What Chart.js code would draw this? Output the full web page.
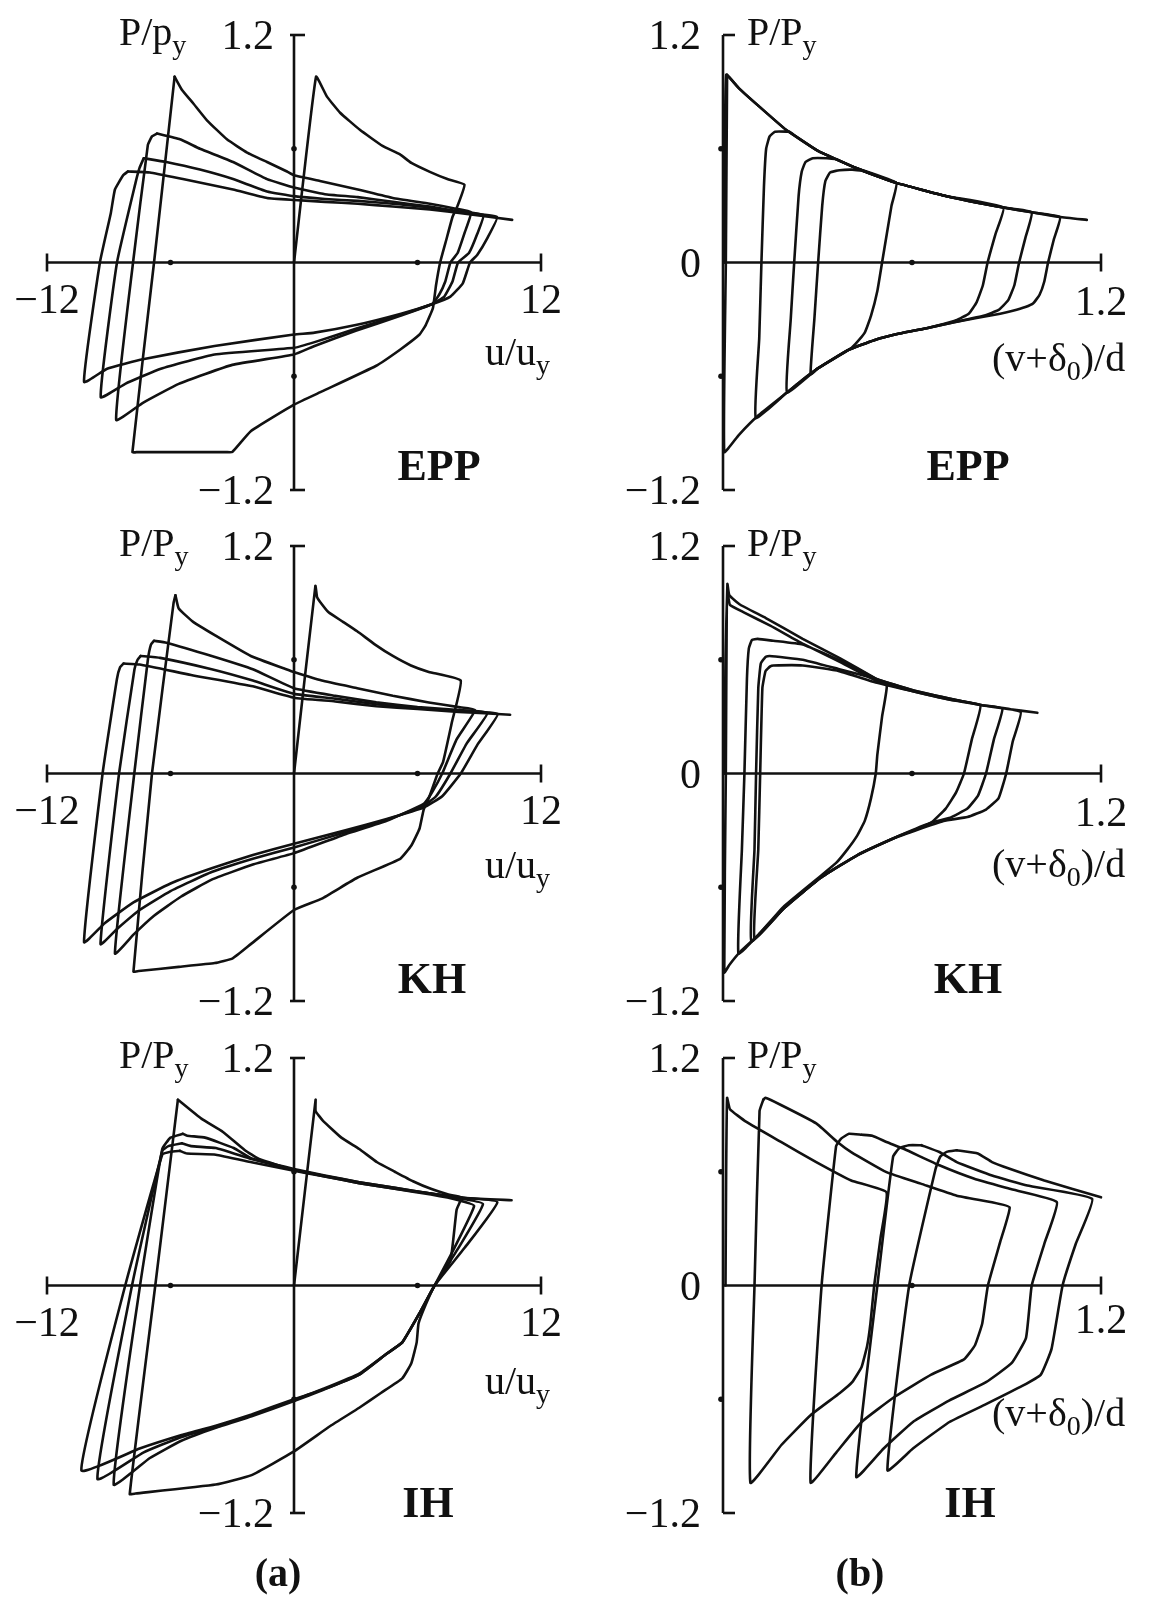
<!DOCTYPE html>
<html>
<head>
<meta charset="utf-8">
<script src="https://cdn.jsdelivr.net/npm/chart.js@4.4.1/dist/chart.umd.min.js"></script>
<style>
  html, body { margin: 0; padding: 0; background: #fff; }
  #page { position: relative; width: 1155px; height: 1598px; overflow: hidden; background: #fff; }
  canvas { position: absolute; }
</style>
</head>
<body>
<div id="page">
  <canvas id="cEPPa" width="580" height="511" style="left:0;top:0"></canvas>
  <canvas id="cEPPb" width="565" height="511" style="left:590px;top:0"></canvas>
  <canvas id="cKHa"  width="580" height="511" style="left:0;top:511px"></canvas>
  <canvas id="cKHb"  width="565" height="511" style="left:590px;top:511px"></canvas>
  <canvas id="cIHa"  width="580" height="575" style="left:0;top:1023px"></canvas>
  <canvas id="cIHb"  width="565" height="575" style="left:590px;top:1023px"></canvas>
</div>
<script>
// Brace hysteresis: (a) axial force vs axial displacement, (b) force vs mid-span deflection.
// Each path is one load cycle: buckling branch, unloading, tension branch, reloading.

// ---- axis ticks ----
const uTicks = [-12, 12];          // u/u_y end labels
const uMarks = [-6, 6];            // small dots on the u axis
const pTicksA = [1.2, -1.2];
const pTicksB = [1.2, 0, -1.2];
const pMarks = [0.6, -0.6];
const vTicks = [1.2];
const vMarks = [0.6];

// ---- (a) EPP : [u/u_y, P/P_y] ----
const eppA1 = [[0,0],[1.07,0.98],[1.6,0.875],[2.24,0.79],[3.2,0.70],[4.3,0.615],[5.15,0.57],[5.7,0.525],[6.6,0.478],[7.45,0.44],[8.28,0.41],
  [7.95,0.30],[7.7,0.24],[7.4,0.12],[7.1,0],[6.9,-0.12],[6.75,-0.24],[6.4,-0.33],[6.1,-0.38],[5.15,-0.46],[3.97,-0.546],[1.36,-0.68],[0,-0.75],
  [-2.1,-0.89],[-3.0,-1.0],[-3.3,-1.0],[-7.6,-1.0],[-7.85,-1.0],[-6.8,0],[-5.8,0.98]];
const eppA2 = [[-5.8,0.98],[-5.44,0.91],[-4.9,0.84],[-4.23,0.75],[-3.26,0.65],[-2.28,0.58],[-1.31,0.53],[-0.34,0.48],[0,0.46],[1.26,0.43],[3.1,0.385],
  [4.8,0.34],[6.6,0.31],[7.8,0.285],[8.6,0.265],[8.3,0.16],[7.95,0.05],[7.6,0],[7.35,-0.1],[7.05,-0.17],[6.7,-0.22],[5.2,-0.28],[3.0,-0.36],
  [1.0,-0.44],[0,-0.485],[-3.0,-0.54],[-5.6,-0.64],[-7.34,-0.74],[-8.64,-0.83],[-7.82,0],[-7.1,0.62],[-6.9,0.665],[-6.66,0.68]];
const eppA3 = [[-6.66,0.68],[-5.54,0.65],[-4.57,0.6],[-2.96,0.53],[-1.31,0.44],[0,0.395],[1.5,0.36],[3.1,0.345],[4.8,0.32],[6.6,0.295],[8.0,0.27],
  [9.2,0.25],[8.9,0.15],[8.5,0.05],[7.97,0],[7.7,-0.1],[7.3,-0.18],[6.7,-0.22],[5.2,-0.275],[3.0,-0.35],[1.0,-0.42],[0,-0.45],[-3.86,-0.485],
  [-6.47,-0.56],[-8.2,-0.64],[-9.39,-0.71],[-8.6,0],[-7.7,0.42],[-7.5,0.5],[-7.3,0.55]];
const eppA4 = [[-7.3,0.55],[-6.2,0.53],[-4.57,0.49],[-2.96,0.44],[-1.31,0.375],[0,0.35],[1.5,0.335],[3.1,0.325],[4.8,0.31],[6.6,0.29],[8.0,0.265],
  [9.86,0.24],[9.4,0.13],[8.9,0.04],[8.55,0],[8.2,-0.11],[7.6,-0.18],[6.7,-0.22],[5.2,-0.27],[3.0,-0.33],[1.0,-0.37],[0,-0.38],[-3.86,-0.44],
  [-7.34,-0.51],[-9.08,-0.56],[-10.2,-0.63],[-9.43,0],[-8.9,0.26],[-8.7,0.385],[-8.3,0.46],[-8.07,0.48]];
const eppA5 = [[-8.07,0.48],[-7.0,0.475],[-5.4,0.44],[-2.96,0.385],[-1.31,0.34],[0,0.33],[1.5,0.32],[3.1,0.31],[4.8,0.295],[6.6,0.28],[8.5,0.255],[10.6,0.225]];

// ---- (b) EPP : [(v+d0)/d, P/P_y] ----
const eppB1 = [[0.004,0],[0.01,0.99],[0.05,0.92],[0.11,0.83],[0.2,0.70],[0.3,0.59],[0.42,0.50],[0.55,0.42],[0.535,0.3],[0.52,0.15],[0.505,0],
  [0.49,-0.15],[0.47,-0.28],[0.45,-0.37],[0.42,-0.43],[0.4,-0.46],[0.3,-0.56],[0.244,-0.63],[0.2,-0.69],[0.11,-0.81],[0.05,-0.91],[0.004,-1.0],
  [0.009,0],[0.013,0.99]];
const eppB2 = [[0.013,0.99],[0.05,0.92],[0.11,0.83],[0.2,0.70],[0.3,0.59],[0.42,0.50],[0.55,0.42],[0.71,0.35],[0.89,0.29],[0.865,0.15],[0.84,0],
  [0.825,-0.12],[0.805,-0.21],[0.78,-0.27],[0.74,-0.305],[0.7,-0.325],[0.65,-0.345],[0.56,-0.375],[0.48,-0.41],[0.4,-0.46],[0.3,-0.56],
  [0.244,-0.63],[0.2,-0.69],[0.104,-0.82],[0.115,-0.4],[0.122,0],[0.13,0.4],[0.137,0.6],[0.148,0.665],[0.165,0.69],[0.21,0.69]];
const eppB3 = [[0.21,0.69],[0.3,0.59],[0.42,0.50],[0.55,0.42],[0.71,0.35],[0.89,0.29],[0.98,0.265],[0.96,0.13],[0.94,0],[0.925,-0.12],[0.905,-0.2],
  [0.875,-0.25],[0.83,-0.28],[0.73,-0.316],[0.65,-0.345],[0.56,-0.375],[0.48,-0.41],[0.4,-0.46],[0.3,-0.56],[0.203,-0.685],[0.215,-0.3],
  [0.226,0],[0.24,0.35],[0.25,0.48],[0.262,0.53],[0.285,0.55],[0.33,0.55],[0.36,0.545]];
const eppB4 = [[0.36,0.545],[0.42,0.50],[0.55,0.42],[0.71,0.35],[0.89,0.29],[0.98,0.265],[1.07,0.24],[1.05,0.12],[1.032,0],[1.02,-0.1],
  [1.005,-0.17],[0.985,-0.215],[0.96,-0.235],[0.92,-0.255],[0.88,-0.27],[0.73,-0.316],[0.65,-0.345],[0.56,-0.375],[0.48,-0.41],[0.4,-0.46],
  [0.3,-0.56],[0.278,-0.59],[0.29,-0.3],[0.302,0],[0.315,0.3],[0.325,0.43],[0.34,0.475],[0.37,0.487],[0.41,0.49],[0.44,0.485]];
const eppB5 = [[0.44,0.485],[0.55,0.42],[0.71,0.35],[0.89,0.29],[0.98,0.265],[1.07,0.24],[1.155,0.225]];

// ---- (a) KH ----
const khA1 = [[0,0],[1.04,0.99],[1.12,0.93],[1.27,0.905],[1.68,0.85],[2.38,0.80],[3.07,0.75],[3.94,0.68],[4.8,0.62],[5.68,0.57],[6.55,0.536],
  [8.1,0.49],[7.67,0.27],[7.24,0.06],[6.98,0],[6.55,-0.13],[6.3,-0.19],[6.1,-0.29],[5.7,-0.38],[5.16,-0.45],[3.07,-0.55],[1.35,-0.66],
  [0,-0.72],[-2.1,-0.9],[-2.98,-0.975],[-3.85,-1.0],[-5.6,-1.02],[-7.55,-1.042],[-7.8,-1.045],[-6.9,0],[-5.85,0.9],[-5.76,0.94]];
const khA2 = [[-5.76,0.94],[-5.6,0.87],[-4.9,0.8],[-3.85,0.73],[-2.1,0.62],[-0.38,0.55],[0,0.535],[1.35,0.49],[3.07,0.45],[4.8,0.41],
  [6.55,0.375],[8.0,0.35],[8.8,0.335],[7.9,0.18],[7.2,0],[6.7,-0.1],[6.3,-0.16],[4.5,-0.25],[2.5,-0.32],[0,-0.42],[-2,-0.48],[-4,-0.56],
  [-5.5,-0.65],[-6.8,-0.75],[-7.8,-0.85],[-8.7,-0.95],[-7.76,0],[-7.1,0.6],[-6.95,0.68],[-6.8,0.70]];
const khA3 = [[-6.8,0.70],[-6.2,0.69],[-4,0.62],[-2,0.55],[0,0.45],[2,0.41],[4,0.375],[6,0.35],[8,0.335],[9.4,0.32],[8.4,0.16],[7.6,0],
  [6.9,-0.12],[6.3,-0.17],[4.5,-0.245],[2.5,-0.31],[0,-0.39],[-2,-0.45],[-4,-0.52],[-6,-0.62],[-7.5,-0.72],[-8.6,-0.82],[-9.4,-0.9],
  [-8.5,0],[-7.75,0.55],[-7.6,0.6],[-7.45,0.62]];
const khA4 = [[-7.45,0.62],[-6.5,0.61],[-4,0.55],[-2,0.49],[0,0.42],[2,0.395],[4,0.365],[6,0.345],[8,0.33],[9.9,0.315],[8.9,0.15],[8.1,0],
  [7.2,-0.12],[6.3,-0.18],[4.5,-0.24],[2.5,-0.3],[0,-0.37],[-2,-0.43],[-4,-0.5],[-6,-0.58],[-7.8,-0.68],[-9.2,-0.79],[-10.2,-0.89],
  [-9.3,0],[-8.6,0.5],[-8.45,0.56],[-8.28,0.58]];
const khA5 = [[-8.28,0.58],[-7.5,0.575],[-5,0.52],[-2,0.46],[0,0.40],[2,0.38],[4,0.355],[6,0.34],[8,0.325],[10.5,0.31]];

// ---- (b) KH ----
const khB1 = [[0.004,0],[0.008,0.6],[0.014,1.0],[0.02,0.94],[0.055,0.89],[0.136,0.82],[0.253,0.71],[0.369,0.61],[0.485,0.50],[0.52,0.465],
  [0.505,0.3],[0.49,0.1],[0.485,0],[0.47,-0.13],[0.45,-0.25],[0.425,-0.33],[0.395,-0.40],[0.36,-0.47],[0.31,-0.54],[0.194,-0.70],
  [0.113,-0.85],[0.055,-0.94],[0.02,-1.01],[0.004,-1.05],[0.009,0],[0.012,0.88],[0.016,0.94]];
const khB2 = [[0.016,0.94],[0.022,0.89],[0.066,0.85],[0.15,0.78],[0.253,0.685],[0.369,0.59],[0.485,0.49],[0.6,0.435],[0.718,0.39],[0.817,0.36],
  [0.79,0.18],[0.765,0],[0.74,-0.1],[0.707,-0.185],[0.66,-0.26],[0.544,-0.34],[0.427,-0.43],[0.31,-0.55],[0.194,-0.71],[0.113,-0.85],
  [0.049,-0.95],[0.06,-0.4],[0.068,0],[0.076,0.5],[0.082,0.66],[0.092,0.705],[0.11,0.71],[0.16,0.70],[0.253,0.68],[0.346,0.615],[0.4,0.575]];
const khB3 = [[0.4,0.575],[0.485,0.50],[0.6,0.44],[0.718,0.395],[0.823,0.36],[0.887,0.343],[0.86,0.18],[0.835,0],[0.81,-0.115],[0.776,-0.185],
  [0.718,-0.235],[0.66,-0.26],[0.544,-0.34],[0.427,-0.43],[0.31,-0.55],[0.194,-0.71],[0.09,-0.885],[0.1,-0.4],[0.105,0],[0.112,0.45],
  [0.12,0.58],[0.135,0.615],[0.148,0.62],[0.253,0.60],[0.369,0.55],[0.45,0.515]];
const khB4 = [[0.45,0.515],[0.6,0.44],[0.718,0.395],[0.823,0.36],[0.945,0.325],[0.92,0.17],[0.899,0],[0.875,-0.13],[0.835,-0.19],[0.776,-0.23],
  [0.7,-0.25],[0.544,-0.34],[0.427,-0.43],[0.31,-0.55],[0.194,-0.71],[0.10,-0.87],[0.112,-0.4],[0.118,0],[0.125,0.45],[0.135,0.54],
  [0.15,0.565],[0.16,0.57],[0.253,0.57],[0.369,0.54],[0.485,0.48],[0.6,0.435],[0.718,0.39],[0.823,0.36],[0.893,0.343],[0.998,0.32]];

// ---- (a) IH ----
const ihA1 = [[0,0],[1.05,0.98],[1.05,0.92],[1.4,0.87],[2.3,0.78],[3.17,0.72],[4.04,0.65],[4.9,0.6],[5.78,0.55],[6.65,0.51],[7.5,0.48],
  [8.14,0.465],[7.9,0.4],[7.6,0.13],[6.83,0],[6.4,-0.1],[6.05,-0.2],[5.96,-0.3],[5.7,-0.41],[5.26,-0.49],[4.22,-0.567],[3.17,-0.645],
  [1.78,-0.74],[0,-0.875],[-2.06,-1.0],[-3.8,-1.05],[-7.7,-1.097],[-7.98,-1.1],[-6.74,0],[-5.64,0.98]];
const ihA2 = [[-5.64,0.98],[-4.5,0.88],[-3.45,0.81],[-2.4,0.715],[-1.7,0.667],[0,0.61],[1.5,0.575],[3.17,0.54],[4.9,0.51],[6.65,0.48],
  [8.0,0.45],[8.75,0.42],[7.8,0.2],[6.83,0],[6.13,-0.14],[5.26,-0.3],[4.5,-0.36],[3.17,-0.47],[1.43,-0.55],[0,-0.61],[-2.06,-0.69],
  [-3.8,-0.75],[-5.5,-0.82],[-7.0,-0.91],[-8.76,-1.05],[-7.48,0],[-6.4,0.72],[-6.0,0.78],[-5.4,0.80]];
const ihA3 = [[-5.4,0.80],[-5.19,0.79],[-4.32,0.78],[-2.93,0.725],[-2.06,0.67],[0,0.615],[1.5,0.58],[3.17,0.545],[4.9,0.515],[6.65,0.485],
  [8.0,0.46],[9.18,0.43],[8.0,0.2],[6.83,0],[6.13,-0.14],[5.26,-0.3],[4.5,-0.36],[3.17,-0.465],[1.43,-0.545],[0,-0.605],[-2.06,-0.685],
  [-3.8,-0.745],[-5.5,-0.80],[-7.3,-0.88],[-9.55,-1.02],[-7.87,0],[-6.4,0.71],[-6.1,0.735],[-5.45,0.75]];
const ihA4 = [[-5.45,0.75],[-5.0,0.735],[-3.8,0.725],[-2.06,0.667],[0,0.61],[1.5,0.578],[3.17,0.545],[4.9,0.515],[6.65,0.485],[8.0,0.465],
  [9.88,0.44],[8.3,0.2],[6.83,0],[6.13,-0.14],[5.26,-0.3],[4.5,-0.36],[3.17,-0.47],[1.43,-0.548],[0,-0.6],[-2.06,-0.68],[-3.8,-0.74],
  [-5.5,-0.79],[-7.5,-0.86],[-10.33,-0.975],[-8.2,0],[-6.4,0.69],[-6.0,0.705],[-5.54,0.71]];
const ihA5 = [[-5.54,0.71],[-5.2,0.696],[-3.8,0.69],[-2.06,0.65],[0,0.605],[1.5,0.575],[3.17,0.54],[4.9,0.51],[6.65,0.485],[8.5,0.46],[10.57,0.45]];

// ---- (b) IH ----
const ihB1 = [[0.008,0],[0.01,0.6],[0.013,0.99],[0.022,0.93],[0.073,0.864],[0.184,0.757],[0.296,0.651],[0.407,0.554],[0.519,0.492],[0.5,0.25],
  [0.48,0],[0.468,-0.2],[0.458,-0.315],[0.44,-0.43],[0.41,-0.51],[0.371,-0.567],[0.278,-0.684],[0.186,-0.84],[0.087,-1.04],[0.1,0],
  [0.116,0.92],[0.128,0.98]];
const ihB2 = [[0.128,0.98],[0.134,0.99],[0.184,0.952],[0.296,0.855],[0.363,0.757],[0.407,0.704],[0.519,0.598],[0.63,0.536],[0.742,0.474],
  [0.854,0.439],[0.91,0.412],[0.88,0.23],[0.841,0],[0.823,-0.2],[0.8,-0.315],[0.765,-0.39],[0.661,-0.47],[0.545,-0.587],[0.44,-0.72],
  [0.36,-0.88],[0.278,-1.04],[0.313,0],[0.359,0.735],[0.375,0.775],[0.40,0.80],[0.44,0.795]];
const ihB3 = [[0.44,0.795],[0.474,0.79],[0.519,0.757],[0.575,0.72],[0.687,0.634],[0.798,0.563],[0.91,0.51],[1.06,0.44],[1.02,0.22],[0.98,0],
  [0.962,-0.276],[0.916,-0.41],[0.835,-0.51],[0.719,-0.606],[0.603,-0.72],[0.51,-0.86],[0.423,-1.01],[0.49,0],[0.54,0.68],[0.56,0.725],
  [0.59,0.74],[0.63,0.74]];
const ihB4 = [[0.63,0.74],[0.687,0.704],[0.742,0.651],[0.854,0.58],[0.966,0.527],[1.172,0.457],[1.12,0.22],[1.078,0],[1.043,-0.334],
  [1.009,-0.47],[0.95,-0.53],[0.835,-0.626],[0.719,-0.72],[0.603,-0.86],[0.522,-0.975],[0.591,0],[0.675,0.616],[0.69,0.68],[0.71,0.705],
  [0.742,0.713]];
const ihB5 = [[0.742,0.713],[0.809,0.696],[0.854,0.651],[0.91,0.616],[1.02,0.554],[1.2,0.465]];

// ---- drawing ----
const INK = '#111';
const SERIF = '"Liberation Serif", "Times New Roman", serif';
const NUM_FONT = '42px ' + SERIF;
const LAB_FONT = '40px ' + SERIF;
const SUB_FONT = '28px ' + SERIF;
const NAME_FONT = 'bold 44px ' + SERIF;

const fmt = v => (v < 0 ? '\u2212' : '') + Math.abs(v);

// text made of runs, each run [text, font, dy]
function rich(ctx, runs, x, y, align) {
  let w = 0;
  for (const r of runs) { ctx.font = r[1]; w += ctx.measureText(r[0]).width; }
  let cx = align === 'right' ? x - w : align === 'center' ? x - w / 2 : x;
  ctx.textAlign = 'left';
  ctx.textBaseline = 'alphabetic';
  for (const r of runs) {
    ctx.font = r[1];
    ctx.fillText(r[0], cx, y + (r[2] || 0));
    cx += ctx.measureText(r[0]).width;
  }
}

function axesPlugin(cfg) {
  return {
    id: 'panelAxes',
    afterDatasetsDraw(chart) {
      const ctx = chart.ctx, sx = chart.scales.x, sy = chart.scales.y;
      const ox = sx.getPixelForValue(0), oy = sy.getPixelForValue(0);
      const top = sy.getPixelForValue(sy.max), bot = sy.getPixelForValue(sy.min);
      const right = sx.getPixelForValue(sx.max);
      const seg = (x1, y1, x2, y2) => { ctx.beginPath(); ctx.moveTo(x1, y1); ctx.lineTo(x2, y2); ctx.stroke(); };
      const dot = (x, y) => { ctx.beginPath(); ctx.arc(x, y, 2.8, 0, Math.PI * 2); ctx.fill(); };
      ctx.save();
      ctx.strokeStyle = INK;
      ctx.fillStyle = INK;
      ctx.lineWidth = 2.6;

      seg(ox, top, ox, bot);
      if (cfg.kind === 'a') {
        const left = sx.getPixelForValue(sx.min);
        seg(left, oy, right, oy);
        seg(left, oy - 9, left, oy + 9);
        seg(right, oy - 9, right, oy + 9);
        seg(ox - 4, top, ox + 11, top);
        seg(ox - 4, bot, ox + 11, bot);
        uMarks.forEach(v => dot(sx.getPixelForValue(v), oy));
        pMarks.forEach(v => dot(ox, sy.getPixelForValue(v)));
        uTicks.forEach(v => rich(ctx, [[fmt(v), NUM_FONT]], sx.getPixelForValue(v), oy + 50, 'center'));
        pTicksA.forEach(v => rich(ctx, [[fmt(v), NUM_FONT]], ox - 20, sy.getPixelForValue(v) + 14, 'right'));
        rich(ctx, [[cfg.pName, LAB_FONT], ['y', SUB_FONT, 9]], ox - 175, top + 10, 'left');
        rich(ctx, [['u/u', LAB_FONT], ['y', SUB_FONT, 9]], right - 56, oy + cfg.xLabDy, 'left');
      } else {
        seg(ox, oy, right, oy);
        seg(right, oy - 9, right, oy + 9);
        seg(ox, top, ox + 12, top);
        seg(ox, bot, ox + 12, bot);
        vMarks.forEach(v => dot(sx.getPixelForValue(v), oy));
        pMarks.forEach(v => dot(ox - 2, sy.getPixelForValue(v)));
        vTicks.forEach(v => rich(ctx, [[fmt(v), NUM_FONT]], sx.getPixelForValue(v), oy + cfg.endDy, 'center'));
        pTicksB.forEach(v => rich(ctx, [[fmt(v), NUM_FONT]], ox - 22, sy.getPixelForValue(v) + 14, 'right'));
        rich(ctx, [['P/P', LAB_FONT], ['y', SUB_FONT, 9]], ox + 24, top + 10, 'left');
        rich(ctx, [['(v+\u03b4', LAB_FONT], ['0', SUB_FONT, 9], [')/d', LAB_FONT]], right - 109, oy + cfg.xLabDy, 'left');
      }
      rich(ctx, [[cfg.name, NAME_FONT]], ox + cfg.nameDx, bot + cfg.nameDy, 'center');
      if (cfg.caption) rich(ctx, [[cfg.caption, 'bold 40px ' + SERIF]], ox + cfg.capDx, bot + 73, 'center');
      ctx.restore();
    }
  };
}

const PANELS = [
  { canvas: 'cEPPa', kind: 'a', paths: [eppA1, eppA2, eppA3, eppA4, eppA5], pName: 'P/p', name: 'EPP', nameDx: 145, nameDy: -10, xLabDy: 102 },
  { canvas: 'cEPPb', kind: 'b', paths: [eppB1, eppB2, eppB3, eppB4, eppB5], name: 'EPP', nameDx: 245, nameDy: -10, xLabDy: 108, endDy: 52 },
  { canvas: 'cKHa',  kind: 'a', paths: [khA1, khA2, khA3, khA4, khA5], pName: 'P/P', name: 'KH', nameDx: 138, nameDy: -8, xLabDy: 104 },
  { canvas: 'cKHb',  kind: 'b', paths: [khB1, khB2, khB3, khB4], name: 'KH', nameDx: 245, nameDy: -8, xLabDy: 103, endDy: 52 },
  { canvas: 'cIHa',  kind: 'a', paths: [ihA1, ihA2, ihA3, ihA4, ihA5], pName: 'P/P', name: 'IH', nameDx: 134, nameDy: 4, xLabDy: 108, caption: '(a)', capDx: -16 },
  { canvas: 'cIHb',  kind: 'b', paths: [ihB1, ihB2, ihB3, ihB4, ihB5], name: 'IH', nameDx: 247, nameDy: 4, xLabDy: 140, endDy: 47, caption: '(b)', capDx: 137 }
];

PANELS.forEach(cfg => {
  const el = document.getElementById(cfg.canvas);
  const h = el.height;
  const pad = cfg.kind === 'a'
    ? { left: 47, right: 39, top: 35, bottom: h - 490 }
    : { left: 133, right: 54, top: 35, bottom: h - 490 };
  new Chart(el, {
    type: 'scatter',
    data: {
      datasets: cfg.paths.map(p => ({
        data: p.map(([x, y]) => ({ x, y })),
        showLine: true,
        borderColor: INK,
        borderWidth: 2.6,
        borderJoinStyle: 'round',
        borderCapStyle: 'round',
        pointRadius: 0,
        pointHoverRadius: 0,
        tension: 0.12,
        fill: false,
        clip: false
      }))
    },
    options: {
      responsive: false,
      animation: false,
      devicePixelRatio: 1,
      events: [],
      layout: { padding: pad },
      scales: {
        x: cfg.kind === 'a'
          ? { type: 'linear', min: -12, max: 12, display: false }
          : { type: 'linear', min: 0, max: 1.2, display: false },
        y: { type: 'linear', min: -1.2, max: 1.2, display: false }
      },
      plugins: { legend: { display: false }, tooltip: { enabled: false } }
    },
    plugins: [axesPlugin(cfg)]
  });
});
</script>
</body>
</html>
